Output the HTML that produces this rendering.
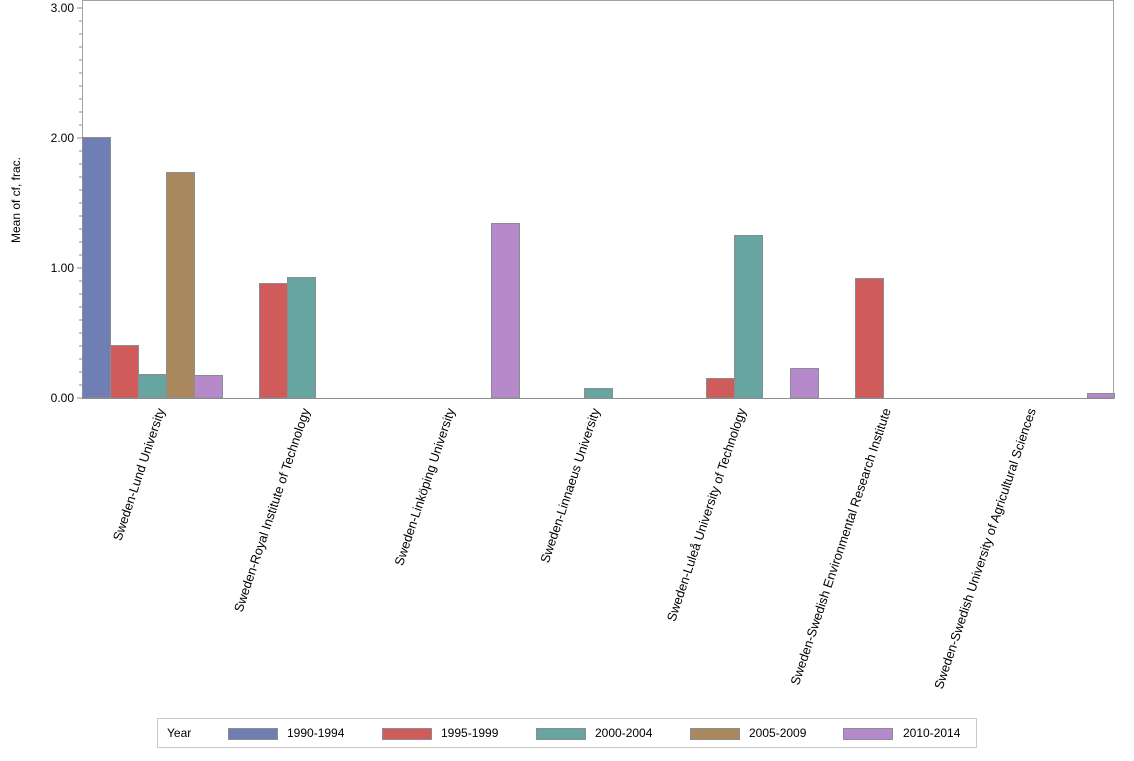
<!DOCTYPE html>
<html><head><meta charset="utf-8"><style>
body{margin:0;background:#fff;width:1134px;height:756px;overflow:hidden}
svg text{font-family:"Liberation Sans",Arial,sans-serif;font-size:12px;fill:#000}
svg .lab{font-size:12.8px}
</style></head><body>
<svg width="1134" height="756" xmlns="http://www.w3.org/2000/svg">
<rect x="82.5" y="0.5" width="1031" height="398" fill="none" stroke="#a0a4a8"/>
<g stroke="#8a8e92">
<line x1="77" y1="8" x2="82" y2="8"/><line x1="77" y1="138" x2="82" y2="138"/><line x1="77" y1="268" x2="82" y2="268"/><line x1="77" y1="398" x2="82" y2="398"/>
<path d="M79 21h3M79 34h3M79 47h3M79 60h3M79 73h3M79 86h3M79 99h3M79 112h3M79 125h3M79 151h3M79 164h3M79 177h3M79 190h3M79 203h3M79 216h3M79 229h3M79 242h3M79 255h3M79 281h3M79 294h3M79 307h3M79 320h3M79 333h3M79 346h3M79 359h3M79 372h3M79 385h3"/>
</g>
<g text-anchor="end"><text x="74" y="12">3.00</text><text x="74" y="142">2.00</text><text x="74" y="272">1.00</text><text x="74" y="402">0.00</text></g>
<text transform="translate(20,200) rotate(-90)" text-anchor="middle">Mean of cf, frac.</text>
<g stroke="#8a8e92" stroke-width="1">
<rect x="82.5" y="137.5" width="28" height="260.5" fill="#6f7eb3"/>
<rect x="110.5" y="345.5" width="28" height="52.5" fill="#d05b5b"/>
<rect x="138.5" y="374.5" width="28" height="23.5" fill="#66a5a0"/>
<rect x="166.5" y="172.5" width="28" height="225.5" fill="#a8885c"/>
<rect x="194.5" y="375.5" width="28" height="22.5" fill="#b689cb"/>
<rect x="259.5" y="283.5" width="28" height="114.5" fill="#d05b5b"/>
<rect x="287.5" y="277.5" width="28" height="120.5" fill="#66a5a0"/>
<rect x="491.5" y="223.5" width="28" height="174.5" fill="#b689cb"/>
<rect x="584.5" y="388.5" width="28" height="9.5" fill="#66a5a0"/>
<rect x="706.5" y="378.5" width="28" height="19.5" fill="#d05b5b"/>
<rect x="734.5" y="235.5" width="28" height="162.5" fill="#66a5a0"/>
<rect x="790.5" y="368.5" width="28" height="29.5" fill="#b689cb"/>
<rect x="855.5" y="278.5" width="28" height="119.5" fill="#d05b5b"/>
<rect x="1087.5" y="393.5" width="27" height="4.5" fill="#b689cb"/>
</g>
<line x1="82" y1="398.5" x2="1114" y2="398.5" stroke="#8a8e92"/>
<g text-anchor="end" class="lab">
<text class="lab" transform="translate(165,410) rotate(-71.5)">Sweden-Lund University</text>
<text class="lab" transform="translate(310,410) rotate(-71.5)">Sweden-Royal Institute of Technology</text>
<text class="lab" transform="translate(455,410) rotate(-71.5)">Sweden-Linköping University</text>
<text class="lab" transform="translate(600,410) rotate(-71.5)">Sweden-Linnaeus University</text>
<text class="lab" transform="translate(746,410) rotate(-71.5)">Sweden-Luleå University of Technology</text>
<text class="lab" transform="translate(891,410) rotate(-71.5)">Sweden-Swedish Environmental Research Institute</text>
<text class="lab" transform="translate(1036,410) rotate(-71.5)">Sweden-Swedish University of Agricultural Sciences</text>
</g>
<rect x="157.5" y="718.5" width="819" height="29" fill="none" stroke="#c8c8c8"/>
<text x="167" y="737">Year</text>
<g stroke="#8a8e92">
<rect x="228.5" y="728.5" width="49" height="11" fill="#6f7eb3"/>
<rect x="382.5" y="728.5" width="49" height="11" fill="#d05b5b"/>
<rect x="536.5" y="728.5" width="49" height="11" fill="#66a5a0"/>
<rect x="690.5" y="728.5" width="49" height="11" fill="#a8885c"/>
<rect x="843.5" y="728.5" width="49" height="11" fill="#b689cb"/>
</g>
<text x="287" y="737">1990-1994</text>
<text x="441" y="737">1995-1999</text>
<text x="595" y="737">2000-2004</text>
<text x="749" y="737">2005-2009</text>
<text x="903" y="737">2010-2014</text>
</svg>
</body></html>
